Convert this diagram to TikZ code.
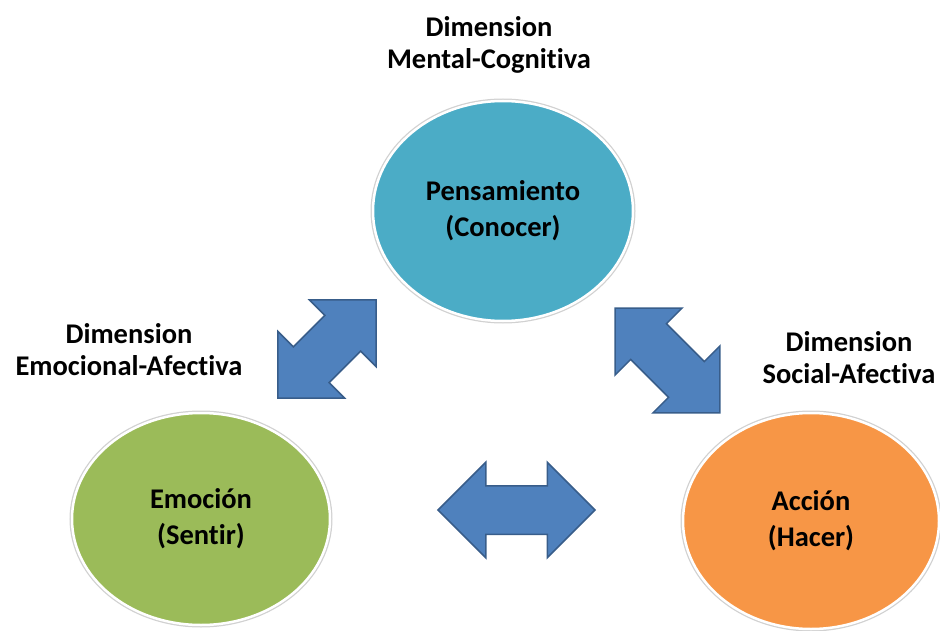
\documentclass[tikz,border=0pt]{standalone}
\usepackage{fontspec}
\setmainfont{Carlito}[Ligatures = NoCommon]
\usetikzlibrary{shapes.geometric, shapes.arrows}

\definecolor{thinkblue}{HTML}{4BACC6}
\definecolor{feelgreen}{HTML}{9BBB59}
\definecolor{actorange}{HTML}{F79646}
\definecolor{linkfill}{HTML}{4F81BD}
\definecolor{linkedge}{HTML}{385D8A}

\begin{document}
\begin{tikzpicture}[
    x = 1pt, y = -1pt,
    %
    facet/.style = {ellipse,
      draw = white, line width = 2.5pt,
      inner sep = 0pt, align = center,
      font = \bfseries\fontsize{28.5}{36}\selectfont,
      preaction = {draw = black!18, line width = 5pt}},
    %
    heading/.style = {align = center,
      font = \bfseries\fontsize{28.5}{32}\selectfont},
    %
    link/.style = {double arrow,
      double arrow tip angle = 90,
      inner xsep = 0pt,
      fill = linkfill, draw = linkedge, line width = 1.5pt},
    ]

    \useasboundingbox (0, 0) rectangle (940, 631);

    \node at (503, 211)
    [facet, fill = thinkblue, minimum width = 260pt,
      minimum height = 220pt, name = pensar]
    {Pensamiento\\(Conocer)};
    \node at (201, 519)
    [facet, fill = feelgreen, minimum width = 258pt,
      minimum height = 212pt, name = sentir]
    {Emoción\\(Sentir)};
    \node at (811, 521)
    [facet, fill = actorange, minimum width = 256pt,
      minimum height = 216pt, name = hacer]
    {Acción\\(Hacer)};

    \node at (489, 45)
    [heading, name = dim_mental] {Dimension\\Mental-Cognitiva};
    \node at (129, 350)
    [heading, name = dim_emocional] {Dimension\\Emocional-Afectiva};
    \node at (849, 358)
    [heading, name = dim_social] {Dimension\\Social-Afectiva};

    \node at (327, 349)
    [link, rotate = 45, minimum height = 139pt,
      inner ysep = 24.5pt, double arrow head extend = 22pt,
      name = sentir_pensar] {};
    \node at (667.5, 360.5)
    [link, rotate = -45, minimum height = 148pt,
      inner ysep = 24.5pt, double arrow head extend = 22pt,
      name = pensar_hacer] {};
    \node at (516.5, 510)
    [link, minimum height = 157pt,
      inner ysep = 23.5pt, double arrow head extend = 23.5pt,
      name = sentir_hacer] {};

  \end{tikzpicture}
\end{document}
